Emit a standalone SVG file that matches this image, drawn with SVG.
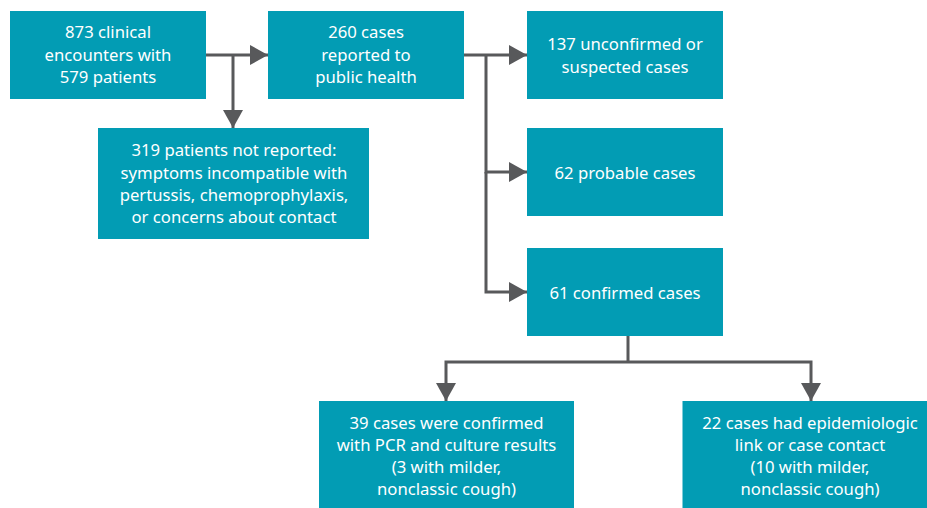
<svg xmlns="http://www.w3.org/2000/svg" width="927" height="508" viewBox="0 0 927 508">
<style>
.box{fill:#029cb4}
.t{font-family:"Noto Sans","Open Sans",sans-serif;font-size:16.7px;fill:#ffffff;text-anchor:middle}
.c{stroke:#58595b;stroke-width:3;fill:none}
</style>
<defs>
<marker id="arr" markerUnits="userSpaceOnUse" markerWidth="20" markerHeight="22" refX="18" refY="10" orient="auto">
<path d="M0,0 L18,10 L0,20 Z" fill="#58595b"/>
</marker>
</defs>
<rect width="927" height="508" fill="#ffffff"/>
<g id="connectors">
<path class="c" d="M206,55 H268" marker-end="url(#arr)"/>
<path class="c" d="M233,55 V128" marker-end="url(#arr)"/>
<path class="c" d="M464,55 H527" marker-end="url(#arr)"/>
<path class="c" d="M486,55 V172 H527" marker-end="url(#arr)"/>
<path class="c" d="M486,172 V292 H527" marker-end="url(#arr)"/>
<path class="c" d="M628,336 V362"/>
<path class="c" d="M628,362 H446 V401" marker-end="url(#arr)"/>
<path class="c" d="M628,362 H811 V401" marker-end="url(#arr)"/>
</g>
<g id="n1"><rect class="box" x="10" y="11" width="196" height="88"/>
<text class="t" x="108" y="38">873 clinical</text><text class="t" x="108" y="60.5">encounters with</text><text class="t" x="108" y="83">579 patients</text></g>
<g id="n2"><rect class="box" x="268" y="11" width="196" height="88"/>
<text class="t" x="366" y="38">260 cases</text><text class="t" x="366" y="60.5">reported to</text><text class="t" x="366" y="83">public health</text></g>
<g id="n3"><rect class="box" x="98" y="128" width="271" height="111"/>
<text class="t" x="234" y="156">319 patients not reported:</text><text class="t" x="234" y="178.5">symptoms incompatible with</text><text class="t" x="234" y="201">pertussis, chemoprophylaxis,</text><text class="t" x="234" y="223">or concerns about contact</text></g>
<g id="n4"><rect class="box" x="527" y="11" width="196" height="88"/>
<text class="t" x="625" y="50">137 unconfirmed or</text><text class="t" x="625" y="72.5">suspected cases</text></g>
<g id="n5"><rect class="box" x="527" y="128" width="196" height="88"/>
<text class="t" x="625" y="178.5">62 probable cases</text></g>
<g id="n6"><rect class="box" x="527" y="248" width="196" height="88"/>
<text class="t" x="625" y="298.5">61 confirmed cases</text></g>
<g id="n7"><rect class="box" x="319" y="401" width="255" height="107"/>
<text class="t" x="446.5" y="428.5">39 cases were confirmed</text><text class="t" x="446.5" y="450.5">with PCR and culture results</text><text class="t" x="446.5" y="472.5">(3 with milder,</text><text class="t" x="446.5" y="494.5">nonclassic cough)</text></g>
<g id="n8"><rect class="box" x="682.5" y="401" width="255" height="107"/>
<text class="t" x="810" y="428.5">22 cases had epidemiologic</text><text class="t" x="810" y="450.5">link or case contact</text><text class="t" x="810" y="472.5">(10 with milder,</text><text class="t" x="810" y="494.5">nonclassic cough)</text></g>
</svg>
